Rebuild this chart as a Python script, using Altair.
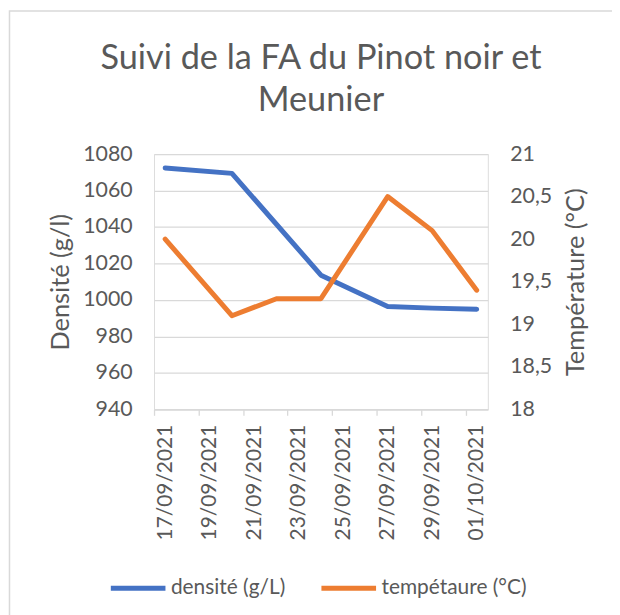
import altair as alt
import pandas as pd

# ---- data ----
dens_dates = ["2021-09-17", "2021-09-20", "2021-09-24", "2021-09-27", "2021-09-29", "2021-10-01"]
dens_values = [1072.4, 1069.4, 1013.6, 996.4, 995.5, 994.9]

temp_dates = ["2021-09-17", "2021-09-20", "2021-09-22", "2021-09-24", "2021-09-27", "2021-09-29", "2021-10-01"]
temp_values = [20.0, 19.1, 19.3, 19.3, 20.5, 20.1, 19.4]

tick_dates = ["2021-09-17", "2021-09-19", "2021-09-21", "2021-09-23",
              "2021-09-25", "2021-09-27", "2021-09-29", "2021-10-01"]
dens_ticks = [940, 960, 980, 1000, 1020, 1040, 1060, 1080]
temp_ticks = [18, 18.5, 19, 19.5, 20, 20.5, 21]

series_names = ["densité (g/L)", "tempétaure (°C)"]
series_colors = ["#4472C4", "#ED7D31"]

title_lines = ["Suivi de la FA du Pinot noir et", "Meunier"]

FONT = "Lato"
GREY = "#595959"
LBL = 21.5
TTL = 25.5

def ms(d):
    return int(pd.Timestamp(d, tz="UTC").value // 1_000_000)

dens_df = pd.DataFrame({"date": [ms(d) for d in dens_dates], "value": dens_values,
                        "series": series_names[0]})
temp_df = pd.DataFrame({"date": [ms(d) for d in temp_dates], "value": temp_values,
                        "series": series_names[1]})

x_domain = [ms("2021-09-17") - 12 * 3600 * 1000, ms("2021-10-01") + 12 * 3600 * 1000]
W, H = 336, 257
half_day_px = W / 15 / 2

x_enc = alt.X(
    "date:T",
    scale=alt.Scale(type="utc", domain=x_domain),
    axis=alt.Axis(
        values=[ms(d) for d in tick_dates],
        labelExpr="utcFormat(datum.value, '%d/%m/%Y')",
        labelAngle=270, labelAlign="right", labelBaseline="middle",
        tickOffset=-half_day_px, labelOffset=half_day_px,
        labelPadding=9, tickSize=6, tickColor="#d9d9d9",
        domainColor="#d9d9d9", domainWidth=1.3, tickWidth=1.3,
        grid=False, title=None,
        labelFont=FONT, labelFontSize=21, labelColor=GREY,
    ),
)

color_enc = alt.Color(
    "series:N",
    scale=alt.Scale(domain=series_names, range=series_colors),
    legend=alt.Legend(
        orient="none", legendX=-46, legendY=407, direction="horizontal",
        title=None, symbolType="stroke", symbolSize=3025, symbolStrokeWidth=5,
        labelFont=FONT, labelFontSize=21, labelColor=GREY, columnPadding=25,
        labelOffset=3,
    ),
)

# chart frame (light grey border as in the spreadsheet export)
frame = alt.Chart(pd.DataFrame({"f": [0]})).mark_rect(
    fill=None, stroke="#d9d9d9", strokeWidth=1.5
).encode(
    x=alt.value(-145.5), x2=alt.value(W + 300),
    y=alt.value(-144), y2=alt.value(H + 300),
)

dens = alt.Chart(dens_df).mark_line(strokeWidth=5, strokeCap="round", strokeJoin="round").encode(
    x=x_enc,
    y=alt.Y("value:Q", scale=alt.Scale(domain=[940, 1080], nice=False, zero=False),
            axis=alt.Axis(values=dens_ticks, orient="left", domain=False, ticks=False,
                          grid=True, gridColor="#d9d9d9", gridWidth=1.3, format="d",
                          labelPadding=22, labelFont=FONT, labelFontSize=LBL, labelColor=GREY,
                          title="Densité (g/l)", titleFont=FONT, titleFontSize=TTL,
                          titleFontWeight="normal", titleColor=GREY, titlePadding=9)),
    color=color_enc,
)

temp = alt.Chart(temp_df).mark_line(strokeWidth=5, strokeCap="round", strokeJoin="round").encode(
    x=x_enc,
    y=alt.Y("value:Q", scale=alt.Scale(domain=[18, 21], nice=False, zero=False),
            axis=alt.Axis(values=temp_ticks, orient="right", domain=False, ticks=False,
                          grid=False,
                          labelExpr="replace(toString(datum.value), '.', ',')",
                          labelPadding=22, labelFont=FONT, labelFontSize=LBL, labelColor=GREY,
                          title="Température (°C)", titleFont=FONT, titleFontSize=TTL,
                          titleFontWeight="normal", titleColor=GREY, titlePadding=12,
                          titleAngle=270, titleBaseline="top")),
    color=color_enc,
)

chart = alt.layer(frame, dens, temp).resolve_scale(y="independent").properties(
    width=W, height=H,
    autosize=alt.AutoSizeParams(type="none"),
    padding={"left": 147, "top": 145, "right": 125, "bottom": 205},
    title=alt.TitleParams(text=title_lines, font=FONT, fontSize=34.5, fontWeight="normal",
                          color=GREY, anchor="middle", lineHeight=42, offset=-109),
).configure_view(stroke=None).configure(background="white")

chart.save("out.html", embed_options={"renderer": "svg", "actions": False})
